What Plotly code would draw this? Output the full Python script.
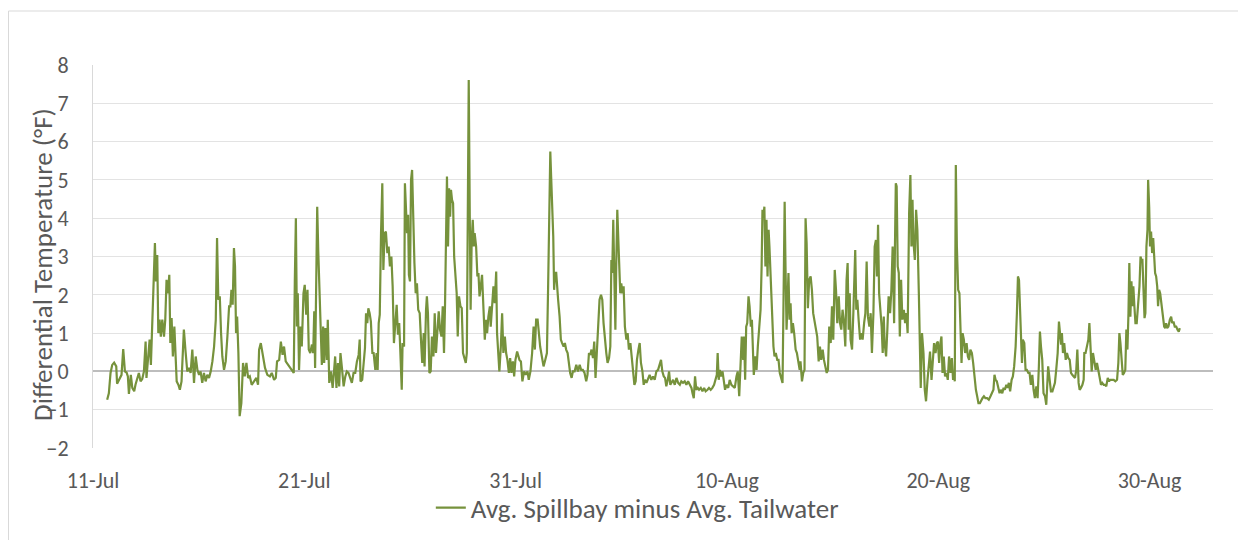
import pandas as pd
import plotly.graph_objects as go

# Day offsets from 11-Jul (fractional days) and differential temperature (°F)
seg1_days = [0.67,0.75,0.83,0.91,1.00, 1.10,1.14,1.26,1.35,1.43, 1.51,1.59,1.65,1.70,1.79, 1.86,1.95,2.01,2.09,2.17,
             2.25,2.33,2.41,2.49,2.53, 2.61,2.68,2.74,2.80,2.87, 2.93,2.98,3.04,3.09,3.15, 3.21,3.28,3.36,3.42,3.48,
             3.55,3.61,3.66,3.72,3.78, 3.85,3.91,3.96,4.04,4.11, 4.19,4.30,4.38,4.46,4.54, 4.62,4.70,4.78,4.86,4.94,
             5.02,5.09,5.17,5.25,5.33, 5.41,5.49,5.57,5.65,5.73, 5.81,5.87,5.93,6.00,6.06, 6.12,6.20,6.28,6.36,6.44,
             6.50,6.55,6.61,6.67,6.72, 6.77,6.82,6.88,6.94]
seg1_vals = [-0.74,-0.57,-0.04,0.17,0.23, 0.13,-0.32,-0.17,-0.09,0.58, 0.0,-0.03,-0.13,-0.59,-0.09, -0.43,-0.52,-0.35,-0.17,-0.04,
             -0.26,-0.20,0.0,0.78,-0.17, 0.30,0.83,0.17,1.26,2.57, 3.35,2.35,3.04,1.0,1.35, 0.91,1.35,0.91,1.35,2.39,
             2.04,2.52,0.74,1.39,0.39, 1.17,0.35,-0.26,-0.35,-0.48, -0.26,1.09,0.52,0.0,0.09, -0.04,0.57,-0.30,0.39,0.04,
             -0.09,0.0,-0.30,-0.04,-0.26, -0.09,-0.17,0.0,0.26,0.65, 1.35,3.48,1.87,1.96,1.0, 0.39,0.04,0.26,0.91,1.70,
             1.70,2.13,1.74,3.22,2.74, 1.0,1.43,0.48,-1.17]

seg2_days = [7.02,7.10,7.18,7.26,7.34, 7.42,7.51,7.62,7.73,7.81, 7.86,7.94,8.02,8.14,8.25, 8.37,8.46,8.57,8.65,8.71,
             8.81,8.89,8.97,9.04,9.12, 9.23,9.33,9.44,9.50,9.55, 9.60,9.65,9.69,9.75,9.82, 9.88,9.96,10.02,10.09,10.15,
             10.21,10.28,10.36,10.42,10.47, 10.51,10.56,10.61,10.66,10.72, 10.77,10.83,10.89,10.94,11.00,
             11.07,11.11,11.18,11.26,11.34, 11.41,11.46,11.52,11.59,11.65, 11.71,11.78,11.86,11.94,12.01,
             12.09,12.17,12.25,12.33,12.41, 12.49,12.57,12.62,12.66,12.74, 12.80,12.87,12.92,12.98,13.03,
             13.09,13.15,13.22,13.28,13.36, 13.42]
seg2_vals = [-0.83,0.22,-0.13,0.22,-0.17, -0.13,-0.35,-0.26,-0.17,-0.35, 0.57,0.74,0.43,0.09,-0.09, -0.13,-0.04,-0.22,-0.17,0.26,
             0.30,0.78,0.43,0.65,0.26, 0.17,0.09,0.0,-0.04,2.35, 4.0,1.17,2.04,0.04,1.17, 0.65,2.04,2.26,1.48,2.13,
             0.57,0.48,0.70,0.48,1.57, 0.09,2.57,4.30,3.13,1.87, 1.43,0.17,1.17,0.22,1.13,
             0.30,1.35,-0.30,0.0,-0.43, 0.04,0.39,-0.43,0.22,-0.39, 0.48,0.09,-0.39,-0.13,0.0,
             -0.04,-0.17,-0.30,-0.04,-0.04, 0.26,0.43,0.83,-0.26,-0.22, 0.30,0.61,1.52,1.26,1.65,
             1.52,1.30,0.48,0.48,0.04, 0.48]

seg3_days = [13.47,13.52,13.57,13.63,13.69, 13.74,13.80,13.86,13.93,13.99, 14.05,14.12,14.18,14.24,14.30,
             14.37,14.43,14.49,14.54,14.61, 14.65,14.72,14.76,14.81,14.86, 14.91,14.95,15.00,15.05,15.10,
             15.14,15.21,15.27,15.33,15.39, 15.46,15.52,15.58,15.65,15.69, 15.76,15.80,15.85,15.92,15.98,
             16.04,16.11,16.17,16.23,16.30, 16.36,16.42,16.49,16.55,16.61, 16.66,16.71,16.75,16.80,16.85,
             16.90,16.94,16.99,17.04,17.09, 17.15,17.21,17.26,17.32,17.39, 17.45,17.51,17.58,17.64,17.69,
             17.73,17.78,17.83,17.87,17.92, 17.97,18.02,18.06,18.13,18.19, 18.24,18.29,18.35,18.41,18.48,
             18.54,18.60,18.65,18.71,18.78, 18.82,18.89,18.95,19.01,19.08, 19.12,19.19,19.23,19.30,19.36,
             19.42,19.49,19.55,19.61,19.68, 19.74,19.80,19.87,19.93,19.99, 20.07]
seg3_vals = [0.04,1.26,1.48,3.61,4.91, 2.65,3.61,3.65,3.09,3.26, 2.74,3.0,2.22,0.74,1.17,
             1.74,0.96,1.26,0.57,-0.48, 0.74,0.65,4.91,4.04,3.61, 4.09,2.52,2.35,5.0,5.26,
             4.13,2.83,2.04,2.30,1.61, 1.52,0.83,0.22,1.0,0.13, 1.61,1.96,1.52,-0.04,0.0,
             0.91,0.39,1.52,0.48,1.17, 1.57,1.09,0.91,1.70,0.48, 1.78,3.87,5.09,3.26,4.78,
             4.04,4.74,4.48,4.39,3.0, 2.57,2.04,0.91,1.96,1.70, 1.65,0.48,0.30,0.22,0.48,
             3.78,7.61,4.04,1.61,3.43, 3.96,3.26,3.61,3.26,2.48, 2.57,1.96,2.22,2.52,1.61,
             0.83,1.35,1.0,1.43,1.70, 1.17,1.78,2.22,1.78,2.61, 1.0,0.48,0.0,0.65,1.52,
             0.48,0.91,0.48,0.30,-0.04, 0.35,-0.04,0.26,-0.13,0.30, 0.52]

seg4_days = [20.18,20.25,20.32,20.40,20.48, 20.56,20.62,20.70,20.78,20.85, 20.91,20.97,21.04,21.10,21.16,
             21.24,21.32,21.40,21.48,21.54, 21.59,21.64,21.68,21.73,21.78, 21.82,21.87,21.92,21.97,22.01,
             22.08,22.14,22.20,22.27,22.33, 22.39,22.46,22.52,22.58,22.65, 22.71,22.79,22.87,22.95,23.03,
             23.10,23.18,23.26,23.34,23.40, 23.47,23.53,23.59,23.66,23.72, 23.78,23.85,23.91,23.97,24.04,
             24.10,24.16,24.23,24.29,24.35, 24.42,24.48,24.53,24.57,24.62, 24.67,24.72,24.76,24.81,24.86,
             24.91,24.95,25.00,25.05,25.11, 25.17,25.24,25.30,25.36,25.43, 25.49,25.55,25.62,25.68,25.74,
             25.81,25.87,25.93,26.00,26.06, 26.12,26.19,26.26,26.34,26.42, 26.50,26.58,26.66]
seg4_vals = [0.30,0.26,-0.26,0.0,-0.09, 0.0,-0.22,0.0,0.48,1.17, 0.57,1.35,1.35,1.0,0.65,
             0.39,0.13,0.30,0.48,2.30, 3.61,5.74,5.09,4.48,3.52, 2.13,2.57,2.57,2.04,1.87,
             1.43,0.83,0.74,0.65,0.74, 0.57,0.48,0.13,-0.04,-0.17, 0.0,0.0,0.17,0.0,0.17,
             0.04,0.04,-0.04,-0.26,-0.09, 0.48,0.43,0.57,0.35,0.78, -0.17,0.65,1.26,1.87,2.0,
             1.87,1.26,0.74,0.48,0.22, 0.35,0.65,2.91,2.57,3.96, 2.48,1.09,2.74,4.22,3.43,
             2.74,2.04,2.30,2.04,2.22, 1.17,0.83,1.0,0.57,0.74, 0.39,0.04,-0.35,-0.26,0.30,
             0.57,0.74,0.22,0.0,-0.35, -0.22,-0.30,-0.17,-0.09,-0.22, -0.13,-0.22,0.0]

seg5_days = [26.74,26.82,26.88,26.94,27.01, 27.07,27.13,27.20,27.26,27.32, 27.39,27.45,27.53,27.61,27.69,
             27.77,27.84,27.92,28.00,28.08, 28.16,28.24,28.32,28.37,28.43, 28.49,28.55,28.62,28.68,28.76,
             28.84,28.92,28.99,29.08,29.15, 29.23,29.31,29.39,29.47,29.52, 29.56,29.61,29.66,29.72,29.79,
             29.85,29.91,29.98,30.06,30.13, 30.21,30.29,30.37,30.45,30.51, 30.58,30.64,30.70,30.77,30.81,
             30.86,30.91,30.96,31.02,31.07, 31.13,31.18,31.22,31.27,31.34, 31.40,31.46,31.52,31.59,31.64,
             31.68,31.73,31.77,31.82,31.87, 31.92,31.97,32.01,32.06,32.11, 32.16,32.20,32.25,32.31,32.38,
             32.44,32.50,32.57,32.63,32.68, 32.73,32.77,32.82,32.87,32.91, 32.96,33.01,33.06,33.12,33.18,
             33.25,33.31]
seg5_vals = [0.04,0.22,0.30,0.0,-0.13, -0.17,-0.39,-0.22,0.0,-0.35, -0.26,-0.22,-0.35,-0.17,-0.30,
             -0.35,-0.26,-0.30,-0.26,-0.35, -0.26,-0.35,-0.43,-0.57,-0.70, -0.13,-0.48,-0.43,-0.48,-0.43,
             -0.52,-0.43,-0.52,-0.48,-0.43, -0.48,-0.43,-0.35,-0.22,-0.09, 0.48,-0.22,0.04,-0.13,0.0,
             -0.30,-0.48,-0.35,-0.43,-0.22, -0.35,-0.39,-0.43,-0.13,0.0, -0.65,-0.04,0.91,0.30,0.91,
             -0.22,1.17,1.26,1.96,1.70, 1.17,1.35,0.30,-0.09,0.39, 0.04,0.65,1.0,1.61,2.74,
             4.22,4.04,4.30,2.74,3.96, 2.48,3.70,3.26,2.57,1.78, 1.35,0.65,0.39,0.48,0.30,
             0.30,-0.04,-0.22,-0.30,2.04, 4.43,2.74,1.09,1.87,2.57, 1.35,1.78,1.0,1.26,1.0,
             0.57,0.48]

seg6_days = [33.37,33.44,33.48,33.55,33.61, 33.67,33.72,33.77,33.83,33.89, 33.96,34.02,34.08,34.15,34.21,
             34.27,34.34,34.40,34.46,34.53, 34.59,34.65,34.72,34.78,34.84, 34.91,34.97,35.03,35.10,35.16,
             35.22,35.29,35.35,35.41,35.47, 35.54,35.60,35.66,35.71,35.76, 35.81,35.85,35.92,35.98,36.03,
             36.07,36.12,36.17,36.23,36.30, 36.36,36.42,36.49,36.55,36.61, 36.67,36.74,36.80,36.86,36.93,
             36.99,37.05,37.10,37.15,37.20, 37.26,37.32,37.37,37.42,37.46, 37.53,37.59,37.65,37.72,37.78,
             37.84,37.91,37.95,37.99,38.03, 38.08,38.13,38.18,38.24,38.30, 38.37,38.43,38.49,38.55,38.62,
             38.68,38.73,38.78,38.82,38.89, 38.95,39.01,39.08,39.12,39.17, 39.23,39.30,39.36,39.42,39.49,
             39.55,39.61,39.68,39.74,39.80, 39.87,39.93]
seg6_vals = [0.30,0.04,0.26,-0.26,-0.04, 0.04,4.0,3.35,1.65,2.39, 2.48,2.13,1.52,1.26,1.09,
             0.91,0.26,0.65,0.30,0.57, 0.30,0.13,-0.04,0.04,1.17, 0.74,1.70,0.83,2.65,2.13,
             1.26,1.96,1.26,1.09,1.61, 1.26,0.65,2.39,2.83,1.09, 2.04,0.83,0.57,1.52,2.74,
             3.17,1.61,1.87,1.35,0.83, 1.0,0.83,1.26,1.52,2.87, 1.43,1.17,1.52,0.48,1.52,
             3.26,3.43,2.48,3.83,2.04, 1.70,1.17,0.48,1.43,0.74, 0.39,1.09,1.96,1.52,2.13,
             3.26,1.26,3.26,4.91,4.83, 2.74,2.57,0.91,2.39,1.35, 1.61,1.26,1.52,1.0,4.13,
             5.13,3.26,4.48,3.43,2.91, 4.22,3.70,2.04,0.30,-0.43, 1.0,0.48,-0.48,-0.78,-0.22,
             0.22,0.52,-0.22,0.30,0.74, 0.48,0.74]

seg7_days = [39.98,40.04,40.10,40.15,40.20, 40.26,40.32,40.39,40.45,40.51, 40.58,40.64,40.70,40.75,40.78,
             40.83,40.88,40.94,41.00,41.05, 41.10,41.15,41.21,41.27,41.34, 41.40,41.46,41.52,41.59,41.65,
             41.71,41.78,41.84,41.90,41.97, 42.03,42.09,42.16,42.23,42.31, 42.39,42.47,42.55,42.61,42.66,
             42.71,42.77,42.84,42.90,42.96, 43.03,43.09,43.15,43.22,43.28, 43.34,43.40,43.47,43.53,43.59,
             43.66,43.72,43.77,43.82,43.86, 43.91,43.96,44.00,44.07,44.13, 44.19,44.26,44.32,44.38,44.45,
             44.51,44.57,44.64,44.70,44.76, 44.81,44.86,44.92,44.98,45.05, 45.11,45.16,45.20,45.27,45.33,
             45.40,45.46,45.52,45.58,45.65, 45.71,45.76,45.81,45.85,45.90, 45.96,46.03,46.09,46.15,46.22,
             46.28,46.34,46.41,46.47,46.53, 46.58]
seg7_vals = [0.78,0.22,0.74,0.91,-0.04, 0.39,-0.13,-0.04,-0.22,0.39, -0.04,0.35,-0.22,-0.04,-0.26,
             5.39,3.26,2.13,2.04,1.09, 0.22,1.0,0.83,0.48,0.74, 0.39,0.30,0.57,0.48,0.22,
             -0.22,-0.48,-0.65,-0.83,-0.83, -0.74,-0.70,-0.65,-0.70,-0.70, -0.74,-0.65,-0.57,-0.48,-0.09,
             -0.22,-0.26,-0.48,-0.57,-0.48, -0.57,-0.43,-0.48,-0.35,-0.43, -0.30,-0.52,-0.22,-0.13,0.13,
             0.65,1.52,2.48,2.39,1.61, 0.91,0.22,0.83,0.74,0.04, 0.04,-0.04,-0.04,-0.35,-0.09,
             -0.48,-0.70,-0.39,-0.70,0.13, 1.04,0.65,0.30,-0.57,-0.65, -0.87,-0.39,0.13,-0.22,-0.52,
             -0.52,-0.43,-0.30,0.04,0.48, 1.30,1.0,0.70,1.0,0.48, 0.74,0.30,0.48,0.35,0.30,
             -0.04,-0.09,-0.13,-0.17,0.04, 0.57]

seg8_days = [46.64,46.69,46.75,46.82,46.88, 46.91,46.97,47.04,47.10,47.15, 47.20,47.26,47.32,47.39,47.45,
             47.51,47.58,47.64,47.70,47.76, 47.83,47.89,47.95,48.02,48.08, 48.14,48.22,48.30,48.38,48.46,
             48.52,48.57,48.62,48.68,48.73, 48.79,48.85,48.90,48.95,49.00, 49.04,49.09,49.14,49.19,49.23,
             49.28,49.33,49.39,49.46,49.52, 49.57,49.61,49.66,49.71,49.76, 49.80,49.85,49.90,49.93,49.98,
             50.02,50.07,50.12,50.17,50.21, 50.26,50.31,50.36,50.40,50.45, 50.50,50.55,50.59,50.64,50.69,
             50.74,50.78,50.83,50.89,50.96, 51.02,51.07,51.13,51.19,51.26, 51.32,51.38,51.43]
seg8_vals = [-0.30,-0.48,-0.43,-0.35,-0.22, 0.48,0.48,0.74,0.83,1.26, 0.74,0.0,0.48,0.26,0.04,
             0.22,0.0,-0.13,-0.35,-0.30, -0.35,-0.35,-0.39,-0.17,-0.26, -0.22,-0.22,-0.22,-0.26,-0.22,
             0.22,1.0,0.74,0.30,-0.09, -0.04,0.04,1.09,0.57,1.52, 2.83,1.43,2.35,1.70,2.22,
             1.70,1.26,1.26,1.70,2.22, 3.0,2.91,2.91,1.87,1.39, 1.52,3.26,3.70,5.0,4.30,
             3.26,3.65,3.09,3.48,3.0, 2.57,2.48,2.22,1.70,2.13, 2.04,1.78,1.52,1.43,1.17,
             1.13,1.26,1.13,1.17,1.35, 1.43,1.26,1.30,1.17,1.17, 1.09,1.04,1.13]

tick_dates = ["2019-07-11", "2019-07-21", "2019-07-31", "2019-08-10", "2019-08-20", "2019-08-30"]
tick_labels = ["11-Jul", "21-Jul", "31-Jul", "10-Aug", "20-Aug", "30-Aug"]
series_name = "Avg. Spillbay minus Avg. Tailwater"
y_title = "Differential Temperature (°F)"

day_segs = [seg1_days, seg2_days, seg3_days, seg4_days, seg5_days, seg6_days, seg7_days, seg8_days]
val_segs = [seg1_vals, seg2_vals, seg3_vals, seg4_vals, seg5_vals, seg6_vals, seg7_vals, seg8_vals]
days, vals = [], []
for d, v in zip(day_segs, val_segs):
    assert len(d) == len(v), (len(d), len(v))
    days += d
    vals += v

start = pd.Timestamp("2019-07-11")
times = start + pd.to_timedelta(days, unit="D")

GREEN = "#76923C"
TXT = "#595959"
FONT = "Carlito, Lato, 'Liberation Sans', sans-serif"

fig = go.Figure()
fig.add_trace(go.Scatter(x=times, y=vals, mode="lines", name=series_name,
                         line=dict(color=GREEN, width=2.2)))

# page has an 8px body margin, so the figure is sized to fit the 1246x540 window
W, H = 1238, 532
ml, mr, mt, mb = 85, 33, 57, 92
pw, ph = W - ml - mr, H - mt - mb

fig.update_layout(
    width=W, height=H,
    margin=dict(l=ml, r=mr, t=mt, b=mb, autoexpand=False),
    paper_bgcolor="white", plot_bgcolor="white",
    font=dict(family=FONT, color=TXT),
    showlegend=True,
    legend=dict(orientation="h", x=0.486, xanchor="center", y=-0.157, yanchor="middle",
                font=dict(size=27, color=TXT), bgcolor="rgba(0,0,0,0)"),
    xaxis=dict(type="date", range=["2019-07-11", "2019-09-02"],
               tickvals=tick_dates, ticktext=tick_labels,
               showgrid=False, zeroline=False, showline=False, ticks="",
               tickfont=dict(size=22, color=TXT), ticklabelstandoff=17),
    yaxis=dict(range=[-2, 8], dtick=1, tick0=0,
               showgrid=True, gridcolor="#e3e3e3", gridwidth=1,
               zeroline=True, zerolinecolor="#bdbdbd", zerolinewidth=1.5,
               showline=True, linecolor="#d9d9d9", linewidth=1,
               ticks="", tickfont=dict(size=22, color=TXT), ticklabelstandoff=19),
    annotations=[dict(text=y_title, textangle=-90, xref="paper", yref="paper",
                      x=(35 - ml) / pw, y=0.478, xanchor="center", yanchor="middle",
                      showarrow=False, font=dict(size=27, color=TXT))],
    shapes=[dict(type="rect", xref="paper", yref="paper",
                 x0=(0.5 - ml) / pw, x1=(W + 20 - ml) / pw,
                 y0=(H - mb - (H + 20)) / ph, y1=(H - mb - 3) / ph,
                 line=dict(color="#d9d9d9", width=1), fillcolor="rgba(0,0,0,0)", layer="below")],
)

fig.write_html("out.html")
